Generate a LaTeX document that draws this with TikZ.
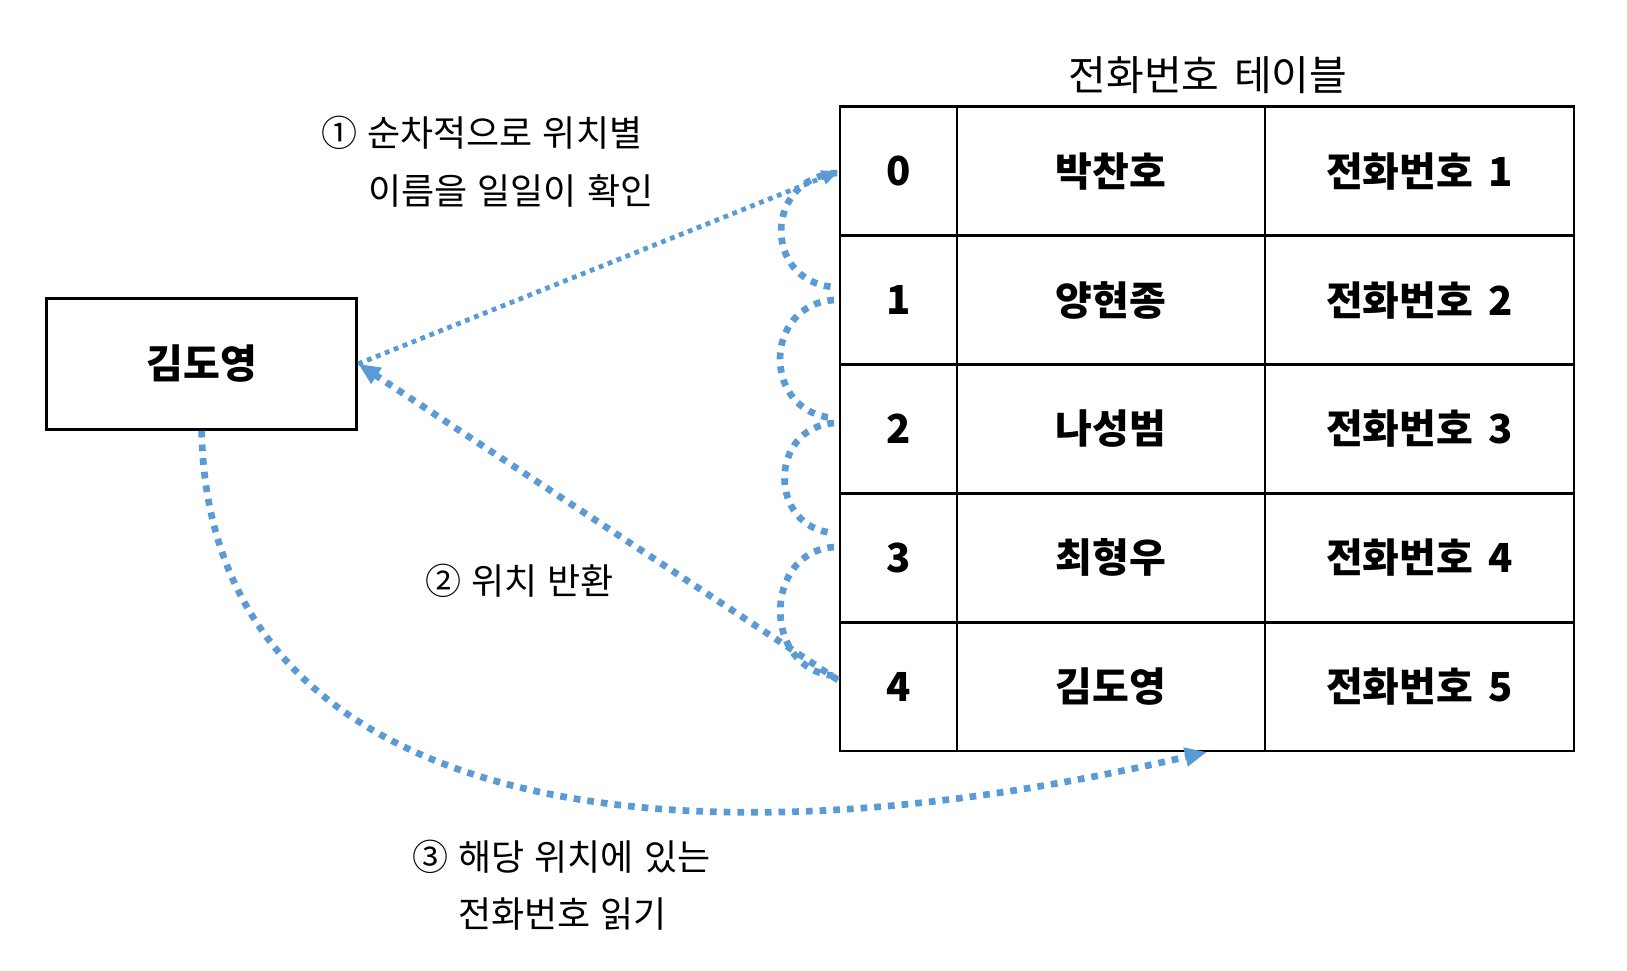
\documentclass[tikz,border=0pt]{standalone}
\usepackage{fontspec}
\setmainfont{Noto Sans CJK KR}
\usetikzlibrary{arrows.meta,calc}
\definecolor{arrowblue}{RGB}{91,155,213}
\newcommand\myspaceA{\spaceskip=0.38em\relax}
\newcommand\myspaceB{\spaceskip=0.28em\relax}
\newcommand\myspaceC{\spaceskip=0.36em\relax}
\begin{document}
\begin{tikzpicture}[x=1pt,y=-1pt,
  cell/.style={draw=black, line width=2.5pt, inner sep=0pt, minimum height=128.9pt,
    font=\fontsize{40}{44}\selectfont\bfseries\myspaceA},
  numcell/.style={cell, minimum width=117pt},
  namecell/.style={cell, minimum width=308pt},
  telcell/.style={cell, minimum width=309pt},
  lbl/.style={inner sep=0pt, anchor=west, font=\fontsize{36}{40}\selectfont\myspaceB},
  thickdot/.style={draw=arrowblue, line width=6.7pt, dash pattern=on 6.7pt off 7pt, line cap=butt},
  thindot/.style={draw=arrowblue, line width=4.8pt, dash pattern=on 4.8pt off 4.8pt, line cap=butt},
  bigtip/.style={-{Triangle[length=22pt,width=18pt]}},
  smalltip/.style={-{Triangle[length=17pt,width=14pt]}}
]
\useasboundingbox (0,0) rectangle (1627,971);

% left box
\node[draw=black, line width=3pt, minimum width=310pt, minimum height=131pt, inner sep=0pt,
  font=\fontsize{40}{44}\selectfont\bfseries] (box) at (201.7,363.8) {김도영};

% title
\node[inner sep=0pt, font=\fontsize{41}{45}\selectfont\myspaceC] (title) at (1208,75) {전화번호 테이블};

% table
\node[numcell]  (n0) at (898.5,171.15) {0};
\node[namecell] (m0) at (1111,171.15) {박찬호};
\node[telcell]  (t0) at (1419.5,171.15) {전화번호 1};
\node[numcell]  (n1) at (898.5,300.05) {1};
\node[namecell] (m1) at (1111,300.05) {양현종};
\node[telcell]  (t1) at (1419.5,300.05) {전화번호 2};
\node[numcell]  (n2) at (898.5,428.95) {2};
\node[namecell] (m2) at (1111,428.95) {나성범};
\node[telcell]  (t2) at (1419.5,428.95) {전화번호 3};
\node[numcell]  (n3) at (898.5,557.85) {3};
\node[namecell] (m3) at (1111,557.85) {최형우};
\node[telcell]  (t3) at (1419.5,557.85) {전화번호 4};
\node[numcell]  (n4) at (898.5,686.75) {4};
\node[namecell] (m4) at (1111,686.75) {김도영};
\node[telcell]  (t4) at (1419.5,686.75) {전화번호 5};

% labels
\node[lbl] (l1a) at (321,133) {① 순차적으로 위치별};
\node[lbl] (l1b) at (368,191) {이름을 일일이 확인};
\node[lbl] (l2)  at (425,581) {② 위치 반환};
\node[lbl] (l3a) at (412,857) {③ 해당 위치에 있는};
\node[lbl] (l3b) at (458,914) {전화번호 읽기};

% coordinates for connector ends
\coordinate (p1a) at (837,173);
\coordinate (p1b) at (834,287);
\coordinate (p2a) at (834,300);
\coordinate (p2b) at (834,418);
\coordinate (p3a) at (834,423);
\coordinate (p3b) at (834,533);
\coordinate (p4a) at (834,547);
\coordinate (p4b) at (836,676);
\coordinate (start2) at (838,680);
\coordinate (tip3) at (1207,752);

% loops
\draw[thickdot] (p1a) .. controls (763,178) and (763,282) .. (p1b);
\draw[thickdot] (p2a) .. controls (762,305) and (762,413) .. (p2b);
\draw[thickdot] (p3a) .. controls (768,428) and (768,528) .. (p3b);
\draw[thickdot] (p4a) .. controls (762,552) and (762,671) .. (p4b);

% arrows
\draw[thindot, smalltip] (box.east) -- (n0.west);
\draw[thickdot, bigtip] (start2) -- (box.east);
\draw[thickdot, bigtip] (box.south) .. controls (208,800) and (640,884) .. (tip3);
\end{tikzpicture}
\end{document}
